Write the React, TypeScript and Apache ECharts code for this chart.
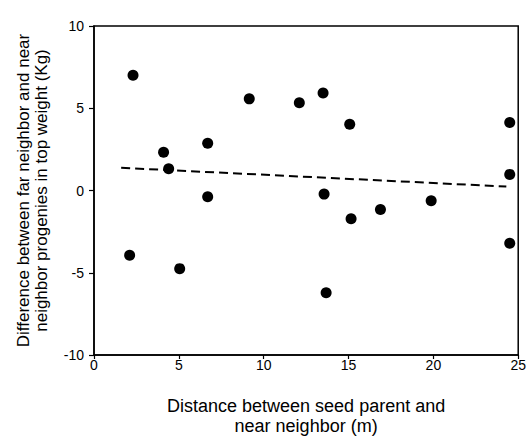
import React, { useEffect, useRef } from "react";
import * as echarts from "echarts";

const distance = [2.3, 2.1, 4.1, 4.4, 5.05, 6.7, 6.7, 9.15, 12.1, 13.5, 15.07, 24.5, 24.5, 13.56, 19.87, 16.88, 15.15, 24.5, 13.68];
const difference = [7.0, -3.93, 2.32, 1.32, -4.75, 2.87, -0.38, 5.57, 5.33, 5.93, 4.03, 4.13, 0.98, -0.22, -0.62, -1.16, -1.72, -3.21, -6.21];
const trendX = [1.6, 24.3];
const trendY = [1.38, 0.24];
const xTitle = "Distance between seed parent and\nnear neighbor (m)";
const yTitle = "Difference between far neighbor and near\nneighbor progenies in top weight (Kg)";

const FONT = "Liberation Sans, Arial, Helvetica, sans-serif";

export default function App() {
  const ref = useRef<HTMLDivElement>(null);
  useEffect(() => {
    if (!ref.current) return;
    document.body.style.margin = "0";
    document.documentElement.style.overflow = "hidden";
    document.body.style.overflow = "hidden";
    const chart = echarts.init(ref.current, undefined, { renderer: "svg" });
    chart.setOption({
      animation: false,
      backgroundColor: "#ffffff",
      textStyle: { fontFamily: FONT },
      grid: {
        left: 94,
        right: 8,
        top: 26,
        bottom: 81,
        show: true,
        borderColor: "#000",
        borderWidth: 1.5,
      },
      xAxis: {
        type: "value",
        min: 0,
        max: 25,
        interval: 5,
        splitLine: { show: false },
        axisLine: { show: true, onZero: false, lineStyle: { color: "#000", width: 1.5 } },
        axisTick: { show: true, length: 4, lineStyle: { color: "#000", width: 1.2 } },
        axisLabel: { color: "#000", fontSize: 14, margin: 3, fontFamily: FONT },
        name: xTitle,
        nameLocation: "middle",
        nameGap: 41,
        nameTextStyle: { color: "#000", fontSize: 18, lineHeight: 20, fontFamily: FONT },
      },
      yAxis: {
        type: "value",
        min: -10,
        max: 10,
        interval: 5,
        splitLine: { show: false },
        axisLine: { show: true, onZero: false, lineStyle: { color: "#000", width: 1.5 } },
        axisTick: { show: true, length: 5, lineStyle: { color: "#000", width: 1.2 } },
        axisLabel: { color: "#000", fontSize: 14, margin: 10, fontFamily: FONT },
        name: yTitle,
        nameLocation: "middle",
        nameGap: 44,
        nameTextStyle: { color: "#000", fontSize: 17, lineHeight: 18, fontFamily: FONT },
      },
      series: [
        {
          type: "line",
          data: trendX.map((x, i) => [x, trendY[i]]),
          symbol: "none",
          lineStyle: { color: "#000", width: 2, type: [9, 5] },
          z: 1,
        },
        {
          type: "scatter",
          data: distance.map((x, i) => [x, difference[i]]),
          symbol: "circle",
          symbolSize: 11,
          itemStyle: { color: "#000", opacity: 1 },
          z: 2,
        },
      ],
    });
    return () => chart.dispose();
  }, []);
  return (
    <div
      ref={ref}
      style={{ width: 529, height: 441, position: "fixed", left: 0, top: 0, overflow: "hidden" }}
    />
  );
}
